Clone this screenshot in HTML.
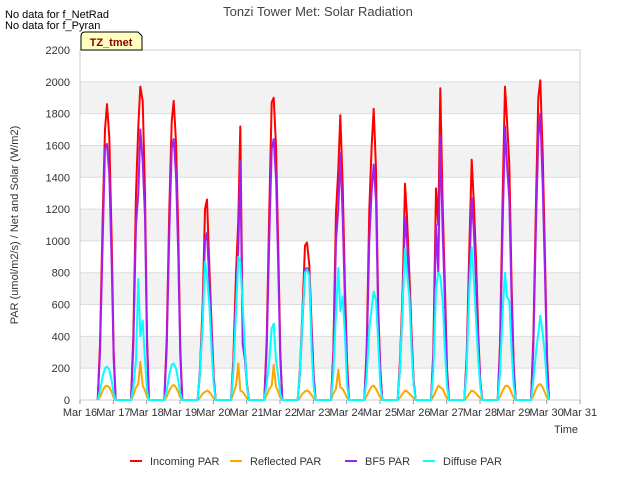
<!DOCTYPE html>
<html><head><meta charset="utf-8"><style>
body{margin:0;background:#fff;font-family:"Liberation Sans",sans-serif;}
svg text{font-family:"Liberation Sans",sans-serif;}
</style></head><body>
<svg id="chart" width="640" height="480" xmlns="http://www.w3.org/2000/svg">
<rect width="640" height="480" fill="#fff"/>
<g id="bands"></g>
<g id="grid"></g>
<rect x="80" y="50" width="500" height="350" fill="none" stroke="#ccc"/>
<g id="series"></g>
<g id="axes"></g>
<text x="318" y="16" text-anchor="middle" font-size="13" fill="#444">Tonzi Tower Met: Solar Radiation</text>
<text x="5" y="18" font-size="11" fill="#000">No data for f_NetRad</text>
<text x="5" y="29" font-size="11" fill="#000">No data for f_Pyran</text>
<g>
<path d="M81,50 L81,36 Q81,32 85,32 L138,32 L142,36 L142,50 Z" fill="#ffffc0" stroke="#000"/>
<text x="111" y="46" text-anchor="middle" font-size="11" font-weight="bold" fill="#8b0000">TZ_tmet</text>
</g>
<text x="566" y="433" text-anchor="middle" font-size="11" fill="#333">Time</text>
<text x="18" y="225" text-anchor="middle" font-size="11" fill="#333" transform="rotate(-90 18 225)">PAR (umol/m2/s) / Net and Solar (W/m2)</text>
<g id="legend"></g>
</svg>
<script>
const xTicks = ["Mar 16","Mar 17","Mar 18","Mar 19","Mar 20","Mar 21","Mar 22","Mar 23","Mar 24","Mar 25","Mar 26","Mar 27","Mar 28","Mar 29","Mar 30","Mar 31"];
const yTicks = [0,200,400,600,800,1000,1200,1400,1600,1800,2000,2200];
const seriesNames = ["Incoming PAR","Reflected PAR","BF5 PAR","Diffuse PAR"];
const seriesColors = ["#ff0000","#ffa500","#a020f0","#00ffff"];
const dayOffsets = [0.53,0.6,0.68,0.75,0.81,0.88,0.95,1.01,1.07];
const incoming = [
[0,350,1150,1700,1860,1650,1000,300,0],
[0,400,1300,1720,1970,1880,1300,400,0],
[0,380,1200,1750,1880,1620,1050,320,0],
[0,200,600,1200,1260,850,450,150,0],
[0,250,790,1130,1720,420,300,100,0],
[0,380,1200,1870,1900,1600,950,300,0],
[0,200,600,970,990,850,450,150,0],
[0,300,1180,1450,1790,1350,700,250,0],
[0,330,1200,1600,1830,1450,560,200,0],
[0,250,700,1360,1150,800,400,120,0],
[0,300,1330,1100,1960,1220,700,200,0],
[0,280,950,1510,1260,890,410,120,0],
[0,350,1300,1970,1760,1480,700,220,0],
[0,380,1250,1900,2010,1550,900,280,0]];
const bf5 = [
[0,300,1000,1580,1610,1420,850,250,0],
[0,330,1100,1300,1700,1500,1150,350,0],
[0,320,1050,1580,1640,1420,900,280,0],
[0,170,500,1000,1050,750,400,120,0],
[0,200,650,950,1500,350,250,80,0],
[0,320,1020,1580,1640,1400,820,260,0],
[0,170,520,820,830,800,400,130,0],
[0,250,1000,1200,1550,1150,600,200,0],
[0,280,1000,1320,1480,1250,500,170,0],
[0,200,600,1150,1000,700,350,100,0],
[0,250,1100,800,1660,1050,600,170,0],
[0,240,800,1270,1080,750,350,100,0],
[0,300,1100,1720,1480,1260,600,190,0],
[0,320,1100,1650,1800,1350,780,240,0]];
const diffuse = [
[0,60,150,200,210,190,120,40,0],
[0,80,250,760,400,500,250,60,0],
[0,60,160,220,230,200,120,40,0],
[0,180,500,870,780,600,300,100,0],
[0,180,550,900,870,600,300,80,0],
[0,100,250,450,480,250,150,40,0],
[0,180,550,800,820,780,300,80,0],
[0,170,550,830,560,650,400,100,0],
[0,150,450,580,680,630,350,90,0],
[0,200,620,950,800,650,300,90,0],
[0,180,700,800,780,620,300,90,0],
[0,200,700,960,780,500,250,80,0],
[0,170,560,800,650,620,300,90,0],
[0,120,300,420,530,420,280,80,0]];
const reflected = [
[0,20,60,85,90,80,50,15,0],
[0,30,80,100,240,90,60,20,0],
[0,20,60,85,95,80,50,15,0],
[0,15,40,50,60,50,30,10,0],
[0,40,90,230,60,50,30,10,0],
[0,30,70,90,220,85,50,15,0],
[0,15,40,55,60,50,30,10,0],
[0,40,70,190,80,70,40,15,0],
[0,25,60,85,90,70,40,15,0],
[0,15,40,60,55,40,25,10,0],
[0,20,60,90,80,70,35,12,0],
[0,15,40,60,55,40,25,10,0],
[0,20,60,85,90,80,40,15,0],
[0,25,70,95,100,80,45,15,0]];
const X0=80,X1=580,Y0=400,Y1=50;
const xs = d => X0 + d*(X1-X0)/15;
const ys = v => Y0 - v*(Y0-Y1)/2200;
const NS="http://www.w3.org/2000/svg";
function mk(tag,attrs,parent){const e=document.createElementNS(NS,tag);for(const k in attrs)e.setAttribute(k,attrs[k]);parent.appendChild(e);return e;}
const bands=document.getElementById('bands'),grid=document.getElementById('grid'),axes=document.getElementById('axes');
for(let i=0;i<yTicks.length-1;i++){
  if(i%2===1){const b=mk('rect',{x:X0,y:ys(yTicks[i+1]),width:X1-X0,height:ys(yTicks[i])-ys(yTicks[i+1]),fill:'#f2f2f2'},bands);
  
  }
}
yTicks.forEach(v=>{
  const l=mk('line',{x1:X0,x2:X1,y1:ys(v),y2:ys(v),stroke:'#dcdcdc'},grid);
  
  
  const t=mk('text',{x:X0-10,y:ys(v)+4,'text-anchor':'end','font-size':11,fill:'#333'},axes);t.textContent=v;
  
  
});
xTicks.forEach((s,i)=>{
  mk('line',{x1:xs(i),x2:xs(i),y1:Y0,y2:Y0+4,stroke:'#999'},axes);
  const t=mk('text',{x:xs(i),y:Y0+16,'text-anchor':'middle','font-size':11,fill:'#333'},axes);t.textContent=s;
  
  
});
const seriesData=[incoming,reflected,bf5,diffuse];
const sg=document.getElementById('series');
[0,1,2,3].forEach(si=>{
  let pts=[];
  seriesData[si].forEach((day,di)=>{day.forEach((v,k)=>{pts.push(xs(di+dayOffsets[k]).toFixed(1)+','+ys(v).toFixed(1));});});
  const p=mk('polyline',{points:pts.join(' '),fill:'none',stroke:seriesColors[si],'stroke-width':2,'stroke-linejoin':'round'},sg);
  
  
});
const lg=document.getElementById('legend');
const lx=[130,230,345,423];
seriesNames.forEach((n,i)=>{
  const g=mk('g',{},lg);
  
  
  mk('line',{x1:lx[i],x2:lx[i]+12,y1:461,y2:461,stroke:seriesColors[i],'stroke-width':2},g);
  const t=mk('text',{x:lx[i]+20,y:465,'font-size':11,fill:'#333'},g);t.textContent=n;
});
</script>
</body></html>
